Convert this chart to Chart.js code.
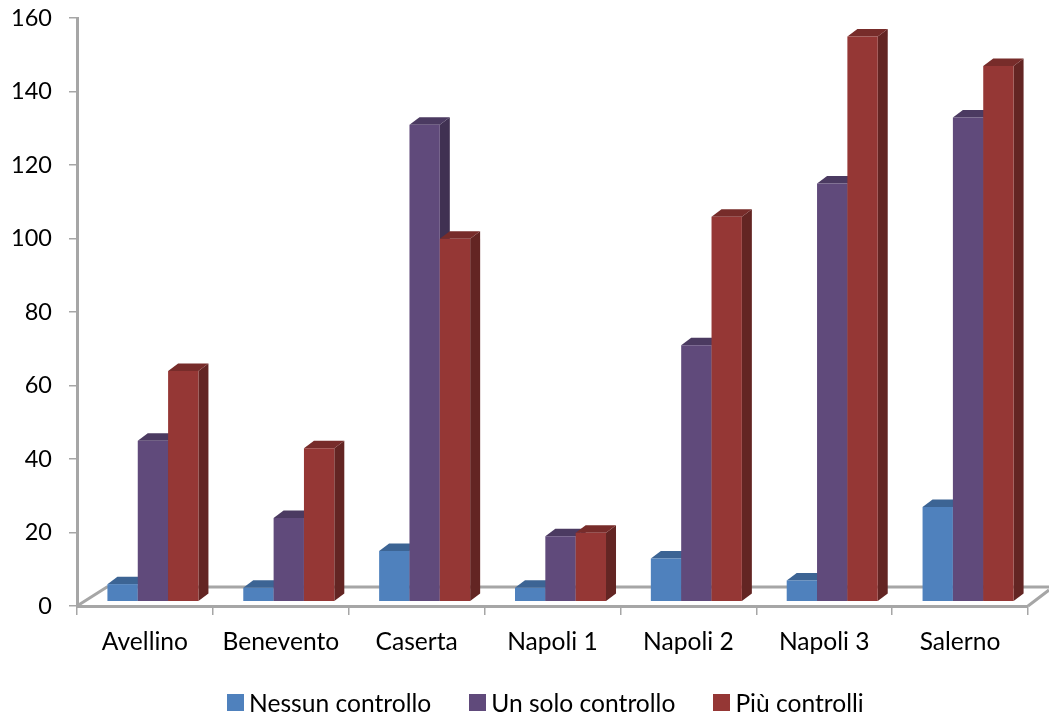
<!DOCTYPE html>
<html>
<head>
<meta charset="utf-8">
<title>Controlli per ASL</title>
<script src="https://cdn.jsdelivr.net/npm/chart.js@4/dist/chart.umd.js"></script>
<style>
    body { margin: 0; background: #fff; width: 1049px; height: 717px; overflow: hidden; position: relative; }
    #chart { position: absolute; left: 0; top: 0; }
    #legend { position: absolute; left: 227px; top: 688px; display: flex; align-items: center; font: 24.6px Lato, sans-serif; color: #000; white-space: nowrap; }
    #legend i { width: 17px; height: 17px; margin-right: 5px; display: block; }
    #legend span { margin-right: 38px; }
</style>
</head>
<body>
<canvas id="chart" width="1049" height="717"></canvas>
<div id="legend"></div>
<script>
const categories = ["Avellino", "Benevento", "Caserta", "Napoli 1", "Napoli 2", "Napoli 3", "Salerno"];
const nessunControllo = [5, 4, 14, 4, 12, 6, 26];
const unSoloControllo = [44, 23, 130, 18, 70, 114, 132];
const piuControlli = [63, 42, 99, 19, 105, 154, 146];

const axisGrey = "#a6a6a6";

// bars sit a little inside the floor, and their depth runs up and to the right
const depthX = 10;
const depthY = 7.5;
const shiftX = 8;
const shiftY = -3.5;
const barBase = 0.4;

const series = [
    {label: "Nessun controllo", data: nessunControllo, front: "#4f81bd", top: "#3c6494", side: "#3a5f8c"},
    {label: "Un solo controllo", data: unSoloControllo, front: "#604a7b", top: "#4b3a61", side: "#403152"},
    {label: "Più controlli", data: piuControlli, front: "#953735", top: "#772c2a", side: "#632523"}
];

function face(ctx, colour, pts) {
    ctx.fillStyle = colour;
    ctx.beginPath();
    pts.forEach(([x, y], i) => i ? ctx.lineTo(x, y) : ctx.moveTo(x, y));
    ctx.closePath();
    ctx.fill();
}

function drawFloor(chart) {
    const {ctx, chartArea: {left, right, bottom}} = chart;
    ctx.save();
    ctx.strokeStyle = axisGrey;
    ctx.lineWidth = 3;
    ctx.beginPath();
    ctx.moveTo(left, bottom);
    ctx.lineTo(left + 30, bottom - 19);
    ctx.lineTo(chart.width, bottom - 19);
    ctx.moveTo(right, bottom);
    ctx.lineTo(chart.width, bottom - 16);
    ctx.stroke();
    ctx.restore();
}

// chart.js paints the first dataset last, here the later bars have to cover the earlier ones
const bars3d = {
    id: "bars3d",
    beforeDatasetsDraw(chart) {
        const {ctx} = chart;
        drawFloor(chart);
        ctx.save();
        ctx.translate(shiftX, shiftY);
        series.forEach((s, i) => {
            const meta = chart.getDatasetMeta(i);
            for (const bar of meta.data) {
                const r = bar.x + bar.width / 2;
                const l = bar.x - bar.width / 2;
                face(ctx, s.side, [[r, bar.y], [r + depthX, bar.y - depthY], [r + depthX, bar.base - depthY], [r, bar.base]]);
                face(ctx, s.top, [[l, bar.y], [l + depthX, bar.y - depthY], [r + depthX, bar.y - depthY], [r, bar.y]]);
            }
            meta.controller.draw();
        });
        ctx.restore();
        return false;
    }
};

new Chart(document.getElementById("chart"), {
    type: "bar",
    data: {
        labels: categories,
        datasets: series.map(s => ({
            label: s.label,
            data: s.data,
            backgroundColor: s.front,
            base: barBase,
            barPercentage: 1,
            categoryPercentage: 0.67
        }))
    },
    options: {
        responsive: false,
        animation: false,
        layout: {padding: {top: 18, right: 21, left: 0, bottom: 0}},
        plugins: {
            legend: {display: false},
            tooltip: {enabled: false}
        },
        scales: {
            x: {
                afterFit: scale => {
                    scale.height = 111;
                    scale.paddingLeft = scale.paddingRight = 0;
                },
                border: {color: axisGrey, width: 3},
                grid: {drawOnChartArea: false, color: axisGrey, lineWidth: 1.5, tickLength: 9},
                ticks: {color: "#000", font: {family: "Lato, sans-serif", size: 24.6}, padding: 12, maxRotation: 0}
            },
            y: {
                min: 0,
                max: 160,
                afterFit: scale => {
                    scale.width = 77;
                    scale.paddingTop = scale.paddingBottom = 0;
                },
                border: {color: axisGrey, width: 3},
                grid: {drawOnChartArea: false, color: axisGrey, lineWidth: 1.5, tickLength: 8},
                ticks: {stepSize: 20, color: "#000", font: {family: "Lato, sans-serif", size: 23.5}, padding: 17}
            }
        }
    },
    plugins: [bars3d]
});

const legend = document.getElementById("legend");
for (const s of series) {
    const box = document.createElement("i");
    box.style.background = s.front;
    const text = document.createElement("span");
    text.textContent = s.label;
    legend.append(box, text);
}
</script>
</body>
</html>
